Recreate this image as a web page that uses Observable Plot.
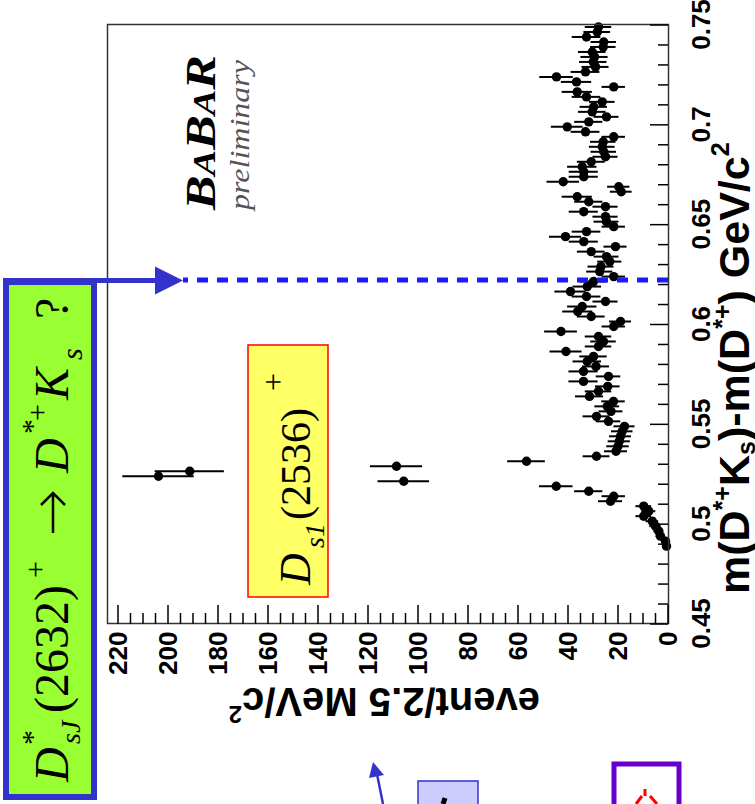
<!DOCTYPE html>
<html><head><meta charset="utf-8">
<script src="https://cdn.jsdelivr.net/npm/d3@7"></script>
<script src="https://cdn.jsdelivr.net/npm/@observablehq/plot@0.6"></script>
<style>
html,body{margin:0;padding:0;background:#fff;width:755px;height:804px;overflow:hidden;}
#rot{position:absolute;left:0;top:0;width:804px;height:755px;transform-origin:0 0;transform:translate(0px,804px) rotate(-90deg);}
</style></head>
<body><div id="rot"></div>
<script>
// ---- data: m(D*+Ks)-m(D*+) bin centres (GeV/c^2) and events per 2.5 MeV/c^2 ----
const mass = [0.48875,0.49125,0.49375,0.49625,0.49875,0.50125,0.50375,0.50625,0.50875,0.51125,
0.51375,0.51625,0.51875,0.52125,0.52375,0.52625,0.52875,0.53125,0.53375,0.53625,
0.53875,0.54125,0.54375,0.54625,0.54875,0.55125,0.55375,0.55625,0.55875,0.56125,
0.56375,0.56625,0.56875,0.57125,0.57375,0.57625,0.57875,0.58125,0.58375,0.58625,
0.58875,0.59125,0.59375,0.59625,0.59875,0.60125,0.60375,0.60625,0.60875,0.61125,
0.61375,0.61625,0.61875,0.62125,0.62375,0.62625,0.62875,0.63125,0.63375,0.63625,
0.63875,0.64125,0.64375,0.64625,0.64875,0.65125,0.65375,0.65625,0.65875,0.66125,
0.66375,0.66625,0.66875,0.67125,0.67375,0.67625,0.67875,0.68125,0.68375,0.68625,
0.68875,0.69125,0.69375,0.69625,0.69875,0.70125,0.70375,0.70625,0.70875,0.71125,
0.71375,0.71625,0.71875,0.72125,0.72375,0.72625,0.72875,0.73125,0.73375,0.73625,
0.73875,0.74125,0.74375,0.74625,0.74875];
const events = [0.8,1.2,3.2,3.9,5.2,6.5,9.9,7.9,9.9,23.2,
21.9,31.9,44.9,105.9,204,191.5,108.8,56.8,28.8,21,
20.2,19.7,19.2,18.5,17.6,24,28.8,23,24.5,22,
31.6,28,24.3,34,24,34,29,32.5,30,41,
28,26,28,43,21.9,19.2,30.9,36.3,34.5,25.2,
32.8,39.2,32.5,30,21.9,27.5,27,23.5,24.8,30.9,
21.2,33.9,41.2,32.8,21.9,24.8,25.2,33.9,25.2,31.9,
36.5,18.9,19.9,42.1,33.9,33.9,34.5,30.9,25.2,25.9,
26.5,26.1,21.9,33.2,40.5,31.9,24.8,30.5,29.9,26.5,
32.8,36.5,21.9,36.8,44.8,33.2,29.2,30.1,29.6,30.5,
26.1,25.9,32.8,28.5,28];
const massTicks = [0.45,0.5,0.55,0.6,0.65,0.7,0.75];
const massTickLabels = ["0.45","0.5","0.55","0.6","0.65","0.7","0.75"];
const countTicks = [0,20,40,60,80,100,120,140,160,180,200,220];
const countTickLabels = ["0","20","40","60","80","100","120","140","160","180","200","220"];
const dsjMass = [0.622];       // D*sJ(2632) - D*+ mass difference
const dsjTop = [194];          // top of dashed marker line (event units)
const binHalf = 0.00125;

const data = mass.map((m, i) => ({
  m, n: events[i],
  lo: Math.max(0, events[i] - Math.sqrt(events[i])),
  hi: events[i] + Math.sqrt(events[i]),
  mlo: m - binHalf, mhi: m + binHalf
}));

const W = 804, H = 755;
const plot = Plot.plot({
  width: W, height: H,
  marginLeft: 180, marginRight: 25, marginTop: 107, marginBottom: 87,
  x: {domain: [0.45, 0.75]},
  y: {domain: [0, 224.4]},
  style: {fontFamily: "'Liberation Sans', Arial, sans-serif", background: "white", overflow: "visible", color: "#000"},
  marks: [
    Plot.axisY(countTicks, {tickSize: 0, tickPadding: 8, fontSize: 26, fontWeight: "bold",
      tickFormat: d => countTickLabels[countTicks.indexOf(d)], label: null}),
    Plot.axisX(massTicks, {tickSize: 0, tickPadding: 23, fontSize: 26, fontWeight: "bold",
      tickFormat: d => massTickLabels[massTicks.indexOf(d)], label: null}),
    Plot.ruleX(data, {x: "m", y1: "lo", y2: "hi", stroke: "#000", strokeWidth: 2}),
    Plot.ruleY(data, {y: "n", x1: "mlo", x2: "mhi", stroke: "#000", strokeWidth: 2}),
    Plot.dot(data, {x: "m", y: "n", r: 4.7, fill: "#000", stroke: "none"}),
    Plot.ruleX(dsjMass, {x: d => d, y1: 0, y2: dsjTop[0], stroke: "#1a1aff", strokeWidth: 5, strokeDasharray: "11,9"}),
    Plot.frame({stroke: "#333", strokeWidth: 1.5})
  ]
});
document.getElementById("rot").appendChild(plot);

const svg = d3.select(plot);
const xs = plot.scale("x"), ys = plot.scale("y");
const X = v => xs.apply(v), Y = v => ys.apply(v);
const g = svg.append("g").attr("text-anchor", "start");

// inward ticks
const xAxisPix = Y(0), yAxisPix = X(0.45);
d3.range(0, 31).forEach(i => {
  const t = 0.45 + i * 0.01, major = i % 5 === 0;
  g.append("line").attr("x1", X(t)).attr("x2", X(t)).attr("y1", xAxisPix).attr("y2", xAxisPix - (major ? 18 : 10))
    .attr("stroke", "#000").attr("stroke-width", 1.5);
});
d3.range(0, 45).forEach(i => {
  const t = i * 5, major = i % 4 === 0;
  g.append("line").attr("x1", yAxisPix).attr("x2", yAxisPix + (major ? 19 : 11)).attr("y1", Y(t)).attr("y2", Y(t))
    .attr("stroke", "#000").attr("stroke-width", 1.5);
});

function text(parent, x, y, parts, base) {
  const t = parent.append("text").attr("x", x).attr("y", y).attr("text-anchor", "start");
  Object.entries(base || {}).forEach(([k, v]) => t.attr(k, v));
  parts.forEach(p => {
    const s = t.append("tspan").text(p.t);
    Object.entries(p).forEach(([k, v]) => { if (k !== "t") s.attr(k, v); });
  });
  return t;
}

// axis titles
text(g, 210, 749, [
  {t: "m(D"}, {t: "*+", "font-size": 25, dy: -18}, {t: "K", dy: 18}, {t: "s", "font-size": 25, dy: 6},
  {t: ")-m(D", dy: -6}, {t: "*+", "font-size": 25, dy: -18}, {t: ") GeV/c", dy: 18}, {t: "2", "font-size": 25, dy: -20}
], {"font-size": 43, "font-weight": "bold", "font-family": "'Liberation Sans', Arial, sans-serif"});

text(g, 0, 0, [{t: "event/2.5 MeV/c"}, {t: "2", "font-size": 24, dy: -18}],
  {"font-size": 40, "font-weight": "bold", transform: "translate(116,540) rotate(-90)", "font-family": "'Liberation Sans', Arial, sans-serif"});

// BABAR logo
const serif = "'Liberation Serif', 'Times New Roman', serif";
text(g, 594, 215, [{t: "B", "font-size": 42}, {t: "A", "font-size": 31}, {t: "B", "font-size": 42}, {t: "A", "font-size": 31}, {t: "R", "font-size": 42}],
  {"font-family": serif, "font-weight": "bold", "font-style": "italic", textLength: 155, lengthAdjust: "spacingAndGlyphs"});
text(g, 594, 249, [{t: "preliminary"}],
  {"font-family": serif, "font-style": "italic", "font-size": 27, fill: "#555", textLength: 150, lengthAdjust: "spacingAndGlyphs"});

// D_s1(2536)+ label box
g.append("rect").attr("x", 207).attr("y", 248).attr("width", 252).attr("height", 80)
  .attr("fill", "#ffff66").attr("stroke", "#ff0000").attr("stroke-width", 1.5);
text(g, 219, 310, [{t: "D", "font-style": "italic"}], {"font-family": serif, "font-size": 44});
text(g, 256, 324, [{t: "s1", "font-style": "italic"}], {"font-family": serif, "font-size": 28});
text(g, 284, 310, [{t: "(2536)"}], {"font-family": serif, "font-size": 42});
text(g, 413, 284, [{t: "+"}], {"font-family": serif, "font-size": 32});

// dashed-line arrow from the question box
const arrowU = X(dsjMass[0]), tipV = Y(dsjTop[0]);
g.append("line").attr("x1", arrowU).attr("x2", arrowU).attr("y1", 3).attr("y2", tipV - 22)
  .attr("stroke", "#3333cc").attr("stroke-width", 5);
g.append("path").attr("d", `M${arrowU - 14},${tipV - 28} L${arrowU + 14},${tipV - 28} L${arrowU},${tipV} Z`).attr("fill", "#3333cc");

// D*sJ(2632)+ -> D*+ Ks ? box
g.append("rect").attr("x", 7).attr("y", 6).attr("width", 515).attr("height", 88)
  .attr("fill", "#99ff33").attr("stroke", "#3333cc").attr("stroke-width", 6);
const sb = {"font-family": serif};
text(g, 22, 68, [{t: "D", "font-style": "italic"}], {...sb, "font-size": 48});
text(g, 59, 42, [{t: "*"}], {...sb, "font-size": 30});
text(g, 60, 80, [{t: "sJ", "font-style": "italic"}], {...sb, "font-size": 28});
text(g, 91, 68, [{t: "(2632)"}], {...sb, "font-size": 48});
text(g, 226, 45, [{t: "+"}], {...sb, "font-size": 30});
g.append("path").attr("d", "M271,53 L311,53 M299,41 L311,53 L299,65")
  .attr("stroke", "#000").attr("stroke-width", 2.5).attr("fill", "none");
text(g, 331, 68, [{t: "D", "font-style": "italic"}], {...sb, "font-size": 48});
text(g, 370, 42, [{t: "*"}], {...sb, "font-size": 30});
text(g, 383, 47, [{t: "+"}], {...sb, "font-size": 30});
text(g, 404, 68, [{t: "K", "font-style": "italic"}], {...sb, "font-size": 48});
text(g, 444, 82, [{t: "s", "font-style": "italic"}], {...sb, "font-size": 30});
text(g, 485, 68, [{t: "?"}], {...sb, "font-size": 48});

// cut-off slide elements along the edge
g.append("path").attr("d", "M0,383 L30,377").attr("stroke", "#3333cc").attr("stroke-width", 2.5).attr("fill", "none");
g.append("path").attr("d", "M42,373 L26,369 L29,384 Z").attr("fill", "#3333cc");
g.append("rect").attr("x", -5).attr("y", 418).attr("width", 28).attr("height", 60)
  .attr("fill", "#ccccff").attr("stroke", "#3333cc").attr("stroke-width", 1.5);
g.append("path").attr("d", "M0,443 L6,445").attr("stroke", "#000").attr("stroke-width", 5);
g.append("rect").attr("x", -10).attr("y", 614).attr("width", 50).attr("height", 65)
  .attr("fill", "#fff").attr("stroke", "#6600cc").attr("stroke-width", 5);
g.append("path").attr("d", "M8,645 L15,645 M0,636 L8,642 M0,657 L8,650").attr("stroke", "#ff0000").attr("stroke-width", 3);
</script></body></html>
